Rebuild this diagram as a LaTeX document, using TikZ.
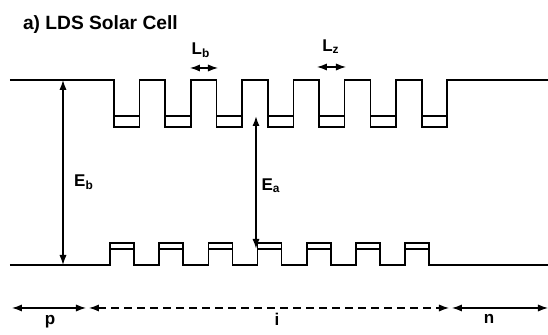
\documentclass[tikz,border=0pt]{standalone}
\usepackage{fontspec}
\setmainfont{Liberation Sans}
\usepackage{tikz}
\usetikzlibrary{arrows.meta, positioning, calc}

\tikzset{
  band/.style={line width=0.8pt},
  level/.style={line width=0.7pt},
  dimarrow/.style={<->, line width=0.6pt},
  lbl/.style={font=\bfseries\fontsize{8.5}{10}\selectfont}
}

\begin{document}
\begin{tikzpicture}[x=0.5pt, y=-0.5pt, >={Latex[length=5pt,width=3.6pt]}]
  \useasboundingbox (0,0) rectangle (548,335);

  % Title
  \node[font=\bfseries\fontsize{9.6}{11}\selectfont, anchor=west] (title) at (16,25) {a) LDS Solar Cell};

  % Conduction band edge with quantum wells
  \draw[band] (10,80)
    \foreach \i in {0,...,6} {
      -- ({114+51.3*\i},80) -- ({114+51.3*\i},127)
      -- ({139.5+51.3*\i},127) -- ({139.5+51.3*\i},80)
    } -- (548,80);
  \foreach \i in {0,...,6}
    \draw[level] ({114+51.3*\i},116) -- ++(25.5,0);

  % Valence band edge with quantum wells
  \draw[band] (10,265)
    \foreach \i in {0,...,6} {
      -- ({110+49.2*\i},265) -- ({110+49.2*\i},243)
      -- ({134+49.2*\i},243) -- ({134+49.2*\i},265)
    } -- (548,265);
  \foreach \i in {0,...,6}
    \draw[level] ({110+49.2*\i},249) -- ++(24,0);

  % Barrier gap
  \coordinate (Ebtop) at (63,80);
  \coordinate (Ebbot) at (63,265);
  \draw[dimarrow] (Ebtop) -- (Ebbot);
  \node[lbl] (Eb) at (84,182) {E\textsubscript{b}};

  % Well gap
  \coordinate (Eatop) at (256,116);
  \coordinate (Eabot) at (256,249);
  \draw[dimarrow, line width=0.9pt] (Eatop) -- (Eabot);
  \node[lbl] (Ea) at (271,186) {E\textsubscript{a}};

  % Barrier and well widths
  \coordinate (Lbl) at (190,68);
  \coordinate (Lbr) at (218,68);
  \draw[dimarrow] (Lbl) -- (Lbr);
  \node[lbl] (Lb) at (201,50) {L\textsubscript{b}};
  \coordinate (Lzl) at (317,67);
  \coordinate (Lzr) at (346,67);
  \draw[dimarrow] (Lzl) -- (Lzr);
  \node[lbl] (Lz) at (331,47) {L\textsubscript{z}};

  % p-i-n regions
  \coordinate (pl) at (12,308);
  \coordinate (pr) at (86,308);
  \coordinate (il) at (89,308);
  \coordinate (ir) at (449,308);
  \coordinate (nl) at (452,308);
  \coordinate (nr) at (548,308);
  \draw[dimarrow] (pl) -- (pr);
  \draw[dimarrow, dashed, dash pattern=on 4pt off 2.5pt] (il) -- (ir);
  \draw[dimarrow] (nl) -- (nr);
  \node[lbl] (p) at (50,322) {p};
  \node[lbl] (i) at (277,319) {i};
  \node[lbl] (n) at (489,319) {n};
\end{tikzpicture}
\end{document}
